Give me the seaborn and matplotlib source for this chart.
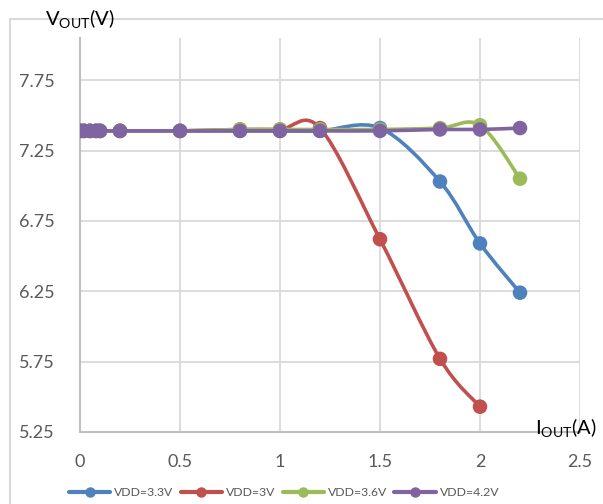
import matplotlib
matplotlib.use("Agg")
import matplotlib.pyplot as plt
from matplotlib.path import Path
from matplotlib.patches import PathPatch, Rectangle
from matplotlib.lines import Line2D
import seaborn as sns
import pandas as pd

# data
iout_33 = [0, 0.02, 0.05, 0.08, 0.1, 0.2, 0.5, 0.8, 1.0, 1.2, 1.5, 1.8, 2.0, 2.2]
vout_33 = [7.39, 7.39, 7.39, 7.39, 7.39, 7.39, 7.39, 7.39, 7.39, 7.39, 7.41, 7.03, 6.59, 6.24]

iout_30 = [0, 0.02, 0.05, 0.08, 0.1, 0.2, 0.5, 0.8, 1.0, 1.2, 1.5, 1.8, 2.0]
vout_30 = [7.39, 7.39, 7.39, 7.39, 7.39, 7.39, 7.39, 7.40, 7.40, 7.41, 6.62, 5.77, 5.43]

iout_36 = [0, 0.02, 0.05, 0.08, 0.1, 0.2, 0.5, 0.8, 1.0, 1.2, 1.5, 1.8, 2.0, 2.2]
vout_36 = [7.39, 7.39, 7.39, 7.39, 7.39, 7.39, 7.39, 7.40, 7.40, 7.40, 7.40, 7.41, 7.43, 7.05]

iout_42 = [0, 0.02, 0.05, 0.08, 0.1, 0.2, 0.5, 0.8, 1.0, 1.2, 1.5, 1.8, 2.0, 2.2]
vout_42 = [7.39, 7.39, 7.39, 7.39, 7.39, 7.39, 7.39, 7.39, 7.39, 7.39, 7.39, 7.40, 7.40, 7.41]

series = ["VDD=3.3V", "VDD=3V", "VDD=3.6V", "VDD=4.2V"]
colors = ["#4F81BD", "#C0504D", "#9BBB59", "#8064A2"]

df = pd.concat([
    pd.DataFrame({"I": iout_33, "V": vout_33, "s": series[0]}),
    pd.DataFrame({"I": iout_30, "V": vout_30, "s": series[1]}),
    pd.DataFrame({"I": iout_36, "V": vout_36, "s": series[2]}),
    pd.DataFrame({"I": iout_42, "V": vout_42, "s": series[3]}),
], ignore_index=True)


def smooth_path(x, y):
    # excel-like smoothed line: cubic bezier with catmull-rom control points
    verts = [(x[0], y[0])]
    codes = [Path.MOVETO]
    n = len(x)
    for i in range(n - 1):
        x0, y0 = (x[i - 1], y[i - 1]) if i > 0 else (x[i], y[i])
        x3, y3 = (x[i + 2], y[i + 2]) if i + 2 < n else (x[i + 1], y[i + 1])
        c1 = (x[i] + (x[i + 1] - x0) / 6, y[i] + (y[i + 1] - y0) / 6)
        c2 = (x[i + 1] - (x3 - x[i]) / 6, y[i + 1] - (y3 - y[i]) / 6)
        verts += [c1, c2, (x[i + 1], y[i + 1])]
        codes += [Path.CURVE4] * 3
    return Path(verts, codes)


sns.set_style("white")
plt.rcParams["font.family"] = ["Lato", "DejaVu Sans"]
plt.rcParams["mathtext.fontset"] = "custom"
plt.rcParams["mathtext.rm"] = "Lato"
plt.rcParams["mathtext.sf"] = "Lato"

fig = plt.figure(figsize=(6.03, 5.04), dpi=100)
ax = fig.add_axes([80 / 603, 1 - 432 / 504, 500 / 603, (432 - 38) / 504])

for k, name in enumerate(series):
    sub = df[df["s"] == name]
    p = smooth_path(list(sub["I"]), list(sub["V"]))
    ax.add_patch(PathPatch(p, facecolor="none", edgecolor=colors[k], lw=2.6,
                           zorder=3 + 2 * k, capstyle="round", joinstyle="round"))
    sns.scatterplot(data=sub, x="I", y="V", color=colors[k], s=110, edgecolor="none",
                    ax=ax, zorder=4 + 2 * k, legend=False)

ax.set_xlim(0, 2.5)
ax.set_ylim(5.25, 8.05)
ax.set_xticks([0, 0.5, 1, 1.5, 2, 2.5])
ax.set_xticklabels(["0", "0.5", "1", "1.5", "2", "2.5"])
ax.set_yticks([5.25, 5.75, 6.25, 6.75, 7.25, 7.75])
ax.set_yticklabels(["5.25", "5.75", "6.25", "6.75", "7.25", "7.75"])
ax.grid(True, color="#D9D9D9", lw=1.3, zorder=0)
ax.set_axisbelow(True)
ax.tick_params(length=0, labelsize=13, colors="#595959")
ax.tick_params(axis="y", pad=18)
ax.tick_params(axis="x", pad=16)
ax.set_xlabel("")
ax.set_ylabel("")
for side in ["top", "right"]:
    ax.spines[side].set_visible(False)
for side in ["left", "bottom"]:
    ax.spines[side].set_color("#BFBFBF")
    ax.spines[side].set_linewidth(1.5)
    ax.spines[side].set_zorder(2)

fig.text(45 / 603, 1 - 19 / 504, r"V$_{\mathsf{OUT}}$(V)", fontsize=14.5, color="black",
         ha="left", va="center")
fig.text(535 / 603, 1 - 428 / 504, r"I$_{\mathsf{OUT}}$(A)", fontsize=14.5, color="black",
         ha="left", va="center")

# chart border
fig.patches.append(Rectangle((10 / 603, -0.1), 1.2, 1.1 - 19 / 504, transform=fig.transFigure,
                             fill=False, edgecolor="#D9D9D9", lw=1.5))

handles = [Line2D([0], [0], color=c, lw=3, marker="o", markersize=6.5) for c in colors]
fig.legend(handles, series, loc="center", bbox_to_anchor=(284 / 603, 1 - 493 / 504), ncol=4,
           frameon=False, fontsize=8.8, handlelength=3.4, handletextpad=0.3, columnspacing=0.6,
           borderpad=0.0, labelcolor="#595959")

fig.savefig("out.png", dpi=100)
